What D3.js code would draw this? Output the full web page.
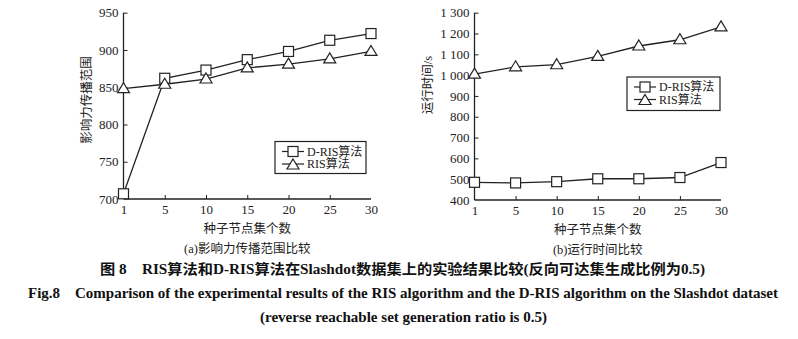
<!DOCTYPE html>
<html><head><meta charset="utf-8">
<script src="https://cdn.jsdelivr.net/npm/d3@7"></script>
<style>body{margin:0;background:#fff}svg{display:block}</style>
</head><body>
<svg id="c" width="798" height="339"></svg>
<script>
const categories = ["1","5","10","15","20","25","30"];
const spreadDRIS = [707, 862, 873, 887, 898, 913, 922];
const spreadRIS  = [848, 854, 861, 876, 881, 888, 898];
const timeDRIS = [485, 482, 488, 502, 502, 508, 580];
const timeRIS  = [1005, 1040, 1050, 1090, 1140, 1170, 1232];
const spreadTicks = [700, 750, 800, 850, 900, 950];
const timeTicks = [400,500,600,700,800,900,1000,1100,1200,1300];
const seriesNames = ["D-RIS算法", "RIS算法"];

const FONT = '"Liberation Serif","Times New Roman","Noto Sans CJK SC",serif';
const svg = d3.select("#c");
const col = "#222";

function panel(opt){
  const g = svg.append("g");
  const x = d3.scalePoint().domain(categories).range([opt.x0, opt.x1]);
  const y = d3.scaleLinear().domain(opt.domain).range([opt.y1, opt.y0]);
  const ya = d3.axisLeft(y).tickValues(opt.ticks).tickSize(-4).tickPadding(5).tickFormat(opt.fmt);
  const xa = d3.axisBottom(x).tickSize(-4).tickPadding(6);
  const gy = g.append("g").attr("transform",`translate(${opt.x0},0)`).call(ya);
  const gx = g.append("g").attr("transform",`translate(0,${opt.y1})`).call(xa);
  [gy,gx].forEach(a=>{
    a.select(".domain").attr("stroke",col).attr("stroke-width",1.3);
    a.selectAll(".tick line").attr("stroke",col).attr("stroke-width",1);
    a.selectAll("text").attr("font-family",FONT).attr("font-size",13).attr("fill",col);
  });
  gx.select(".domain").attr("d",`M${opt.x0},0H${opt.x1}`);
  gy.select(".domain").attr("d",`M0,${opt.y0}V${opt.y1}`);
  gx.selectAll(".tick").filter(d=>d==="1").select("line").remove();
  gx.selectAll(".tick").filter(d=>d==="30").select("line").remove();
  gy.selectAll(".tick").filter(d=>d===opt.domain[0]).select("line").remove();

  const line = d3.line().x((d,i)=>x(categories[i])).y(d=>y(d));
  [opt.a, opt.b].forEach(s=>{
    g.append("path").attr("d",line(s)).attr("fill","none").attr("stroke",col).attr("stroke-width",1.3);
  });
  function square(sel,cx,cy){ sel.append("rect").attr("x",cx-5).attr("y",cy-5).attr("width",10).attr("height",10).attr("fill","#fff").attr("stroke",col).attr("stroke-width",1.2);}
  function tri(sel,cx,cy){ sel.append("path").attr("d",`M${cx},${cy-6}L${cx+6},${cy+4}L${cx-6},${cy+4}Z`).attr("fill","#fff").attr("stroke",col).attr("stroke-width",1.2);}
  opt.a.forEach((v,i)=>square(g,x(categories[i]),y(v)));
  opt.b.forEach((v,i)=>tri(g,x(categories[i]),y(v)));

  const L = opt.legend;
  g.append("rect").attr("x",L.x).attr("y",L.y).attr("width",L.w).attr("height",L.h).attr("fill","#fff").attr("stroke",col).attr("stroke-width",1.2);
  seriesNames.forEach((n,k)=>{
    const ly = L.y + 10 + k*12.5;
    g.append("line").attr("x1",L.x+7).attr("x2",L.x+29).attr("y1",ly).attr("y2",ly).attr("stroke",col).attr("stroke-width",1.2);
    if(k===0) square(g,L.x+18,ly); else tri(g,L.x+18,ly+1);
    g.append("text").attr("x",L.x+32).attr("y",ly+4).attr("font-family",FONT).attr("font-size",12).attr("fill",col).text(n);
  });

  g.append("text").attr("x",(opt.x0+opt.x1)/2).attr("y",opt.y1+34).attr("text-anchor","middle").attr("font-family",FONT).attr("font-size",12.5).attr("fill",col).text("种子节点集个数");
  g.append("text").attr("x",(opt.x0+opt.x1)/2).attr("y",opt.y1+54).attr("text-anchor","middle").attr("font-family",FONT).attr("font-size",12.5).attr("fill",col).text(opt.sub);
  g.append("text").attr("transform",`translate(${opt.ytx},${opt.yty}) rotate(-90)`).attr("text-anchor","middle").attr("font-family",FONT).attr("font-size",12.5).attr("fill",col).text(opt.ytitle);
}

panel({x0:123.5,x1:371,y0:12.7,y1:199,domain:[700,950],ticks:spreadTicks,fmt:d3.format("d"),
  a:spreadDRIS,b:spreadRIS,legend:{x:275,y:141.5,w:91,h:32},sub:"(a)影响力传播范围比较",ytitle:"影响力传播范围",ytx:91,yty:100});
panel({x0:474.5,x1:721,y0:12.7,y1:200,domain:[400,1300],ticks:timeTicks,fmt:d=>d>=1000?d3.format(",")(d).replace(","," "):d,
  a:timeDRIS,b:timeRIS,legend:{x:627,y:77,w:93,h:33.5},sub:"(b)运行时间比较",ytitle:"运行时间/s",ytx:432,yty:85});

const cap = svg.append("g").attr("font-family",FONT).attr("font-weight","bold").attr("fill","#111");
cap.append("text").attr("x",100).attr("y",274).attr("font-size",14).attr("textLength",605).attr("lengthAdjust","spacingAndGlyphs").text("图 8　RIS算法和D-RIS算法在Slashdot数据集上的实验结果比较(反向可达集生成比例为0.5)");
cap.append("text").attr("x",28).attr("y",298).attr("font-size",14).attr("textLength",750).attr("lengthAdjust","spacingAndGlyphs").text("Fig.8　Comparison of the experimental results of the RIS algorithm and the D-RIS algorithm on the Slashdot dataset");
cap.append("text").attr("x",260).attr("y",322).attr("font-size",14).attr("textLength",287).attr("lengthAdjust","spacingAndGlyphs").text("(reverse reachable set generation ratio is 0.5)");
</script>
</body></html>
